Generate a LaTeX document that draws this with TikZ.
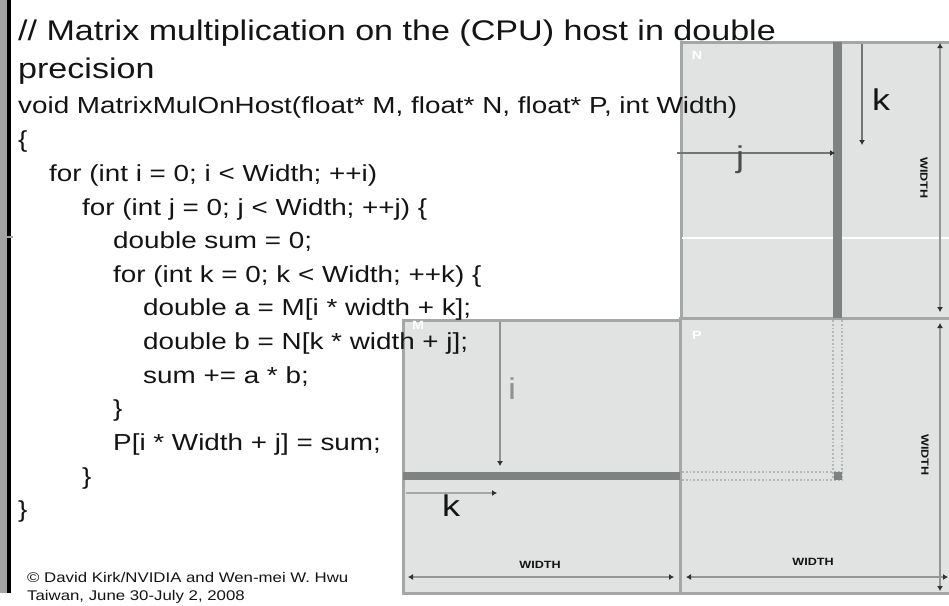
\documentclass[tikz,border=0pt]{standalone}
\usepackage{fontspec}
\setmainfont{Liberation Sans}[FakeStretch=1.2]
\usetikzlibrary{arrows.meta}
\definecolor{mfill}{HTML}{E1E3E3}
\definecolor{mborder}{HTML}{A4A7A6}
\definecolor{mdark}{HTML}{7E8280}
\definecolor{mline}{HTML}{8E9290}
\definecolor{mdot}{HTML}{B4B7B6}
\definecolor{txt}{HTML}{141414}
\definecolor{barcol}{HTML}{A3A3A3}
\definecolor{tipcol}{HTML}{2E3230}
\begin{document}
\begin{tikzpicture}[x=1pt,y=-1pt,
  code/.style={anchor=base west, inner sep=0pt, text=txt, font=\fontsize{23.2}{28}\selectfont},
  bigcode/.style={anchor=base west, inner sep=0pt, text=txt, font=\fontsize{28.4}{34}\selectfont},
  small/.style={anchor=base west, inner sep=0pt, text=txt, font=\fontsize{14}{16}\selectfont},
  matrixbox/.style={fill=mfill, draw=mborder, line width=3pt},
  idx/.style={draw=mline, line width=2.4pt, -{Latex[length=5pt,width=6pt,color=tipcol]}},
  dim/.style={draw=mborder!90!black, line width=2.6pt, {Latex[length=5pt,width=6pt,color=tipcol]}-{Latex[length=5pt,width=6pt,color=tipcol]}},
  dimlabel/.style={inner sep=0pt, text=txt, font=\bfseries\fontsize{10.5}{12}\selectfont},
  mname/.style={inner sep=0pt, text=white, font=\bfseries\fontsize{12}{14}\selectfont},
  idxlabel/.style={inner sep=0pt, font=\fontsize{30}{34}\selectfont}]
\useasboundingbox (0,0) rectangle (949,605);
\fill[white] (0,0) rectangle (949,605);
% left bar
\fill[barcol] (0,0) rectangle (7,593);
\fill[black] (7,0) rectangle (10.5,593);
\draw[barcol, line width=1.5pt] (0,237) -- (13,237);
% matrices
\path[matrixbox] (681,42) rectangle (955,318);
\path[matrixbox] (403,320) rectangle (680,593);
\path[matrixbox] (680,318) rectangle (955,593);
\draw[white!95!mfill, line width=2pt] (682,238) -- (955,238);
% dark strips
\fill[mdark] (833,42) rectangle (842,318);
\fill[mdark] (403,472) rectangle (680,480);
% dotted strips in P
\draw[mdot, line width=1.8pt, dotted] (833,320) -- (833,478);
\draw[mdot, line width=1.8pt, dotted] (842,320) -- (842,478);
\draw[mdot, line width=1.8pt, dotted] (682,472) -- (842,472);
\draw[mdot, line width=1.8pt, dotted] (682,480) -- (842,480);
\fill[mdark] (834,472) rectangle (842,480);
% matrix names
\node[mname] (nN) at (697,55) {N};
\node[mname] (nM) at (418,325) {M};
\node[mname] (nP) at (697,335) {P};
% index arrows
\coordinate (jS) at (677,153); \coordinate (jE) at (835,153);
\draw[idx, draw=mline!80!black] (jS) -- (jE);
\node[idxlabel, text=black!70] (lj) at (740,160) {j};
\coordinate (kNs) at (862,44); \coordinate (kNe) at (862,145);
\draw[idx, draw=mline!80!black] (kNs) -- (kNe);
\node[idxlabel, text=txt] (lkN) at (881,100) {k};
\coordinate (iS) at (500,322); \coordinate (iE) at (500,466);
\draw[idx] (iS) -- (iE);
\node[idxlabel, text=mline] (li) at (512,389) {i};
\coordinate (kMs) at (406,493); \coordinate (kMe) at (497,493);
\draw[idx, draw=mborder] (kMs) -- (kMe);
\node[idxlabel, text=txt] (lkM) at (451,506) {k};
% dimensions
\coordinate (dMa) at (408,577); \coordinate (dMb) at (674,577);
\draw[dim] (dMa) -- (dMb);
\node[dimlabel] (wM) at (540,565) {WIDTH};
\coordinate (dPa) at (686,577); \coordinate (dPb) at (948,577);
\draw[dim] (dPa) -- (dPb);
\node[dimlabel] (wP) at (813,562) {WIDTH};
\coordinate (dNa) at (940,43); \coordinate (dNb) at (940,312);
\draw[dim] (dNa) -- (dNb);
\node[dimlabel, rotate=-90] (wN) at (924,178) {WIDTH};
\coordinate (dQa) at (940,323); \coordinate (dQb) at (940,591);
\draw[dim] (dQa) -- (dQb);
\node[dimlabel, rotate=-90] (wQ) at (925,455) {WIDTH};
% code text
\node[bigcode] (c1) at (18,40) {// Matrix multiplication on the (CPU) host in double};
\node[bigcode] (c2) at (18,78) {precision};
\node[code] (c3) at (18,113) {void MatrixMulOnHost(float* M, float* N, float* P, int Width)};
\node[code] (c4) at (18,147) {\{};
\node[code] (c5) at (49,181) {for (int i = 0; i < Width; ++i)};
\node[code] (c6) at (82,215) {for (int j = 0; j < Width; ++j) \{};
\node[code] (c7) at (113,248) {double sum = 0;};
\node[code] (c8) at (113,282) {for (int k = 0; k < Width; ++k) \{};
\node[code] (c9) at (143,315) {double a = M[i * width + k];};
\node[code] (c10) at (143,349) {double b = N[k * width + j];};
\node[code] (c11) at (143,383) {sum += a * b;};
\node[code] (c12) at (113,416) {\}};
\node[code] (c13) at (113,450) {P[i * Width + j] = sum;};
\node[code] (c14) at (82,484) {\}};
\node[code] (c15) at (18,517) {\}};
\node[small] (cr1) at (27,582) {© David Kirk/NVIDIA and Wen-mei W. Hwu};
\node[small] (cr2) at (27,600) {Taiwan, June 30-July 2, 2008};
\end{tikzpicture}
\end{document}
